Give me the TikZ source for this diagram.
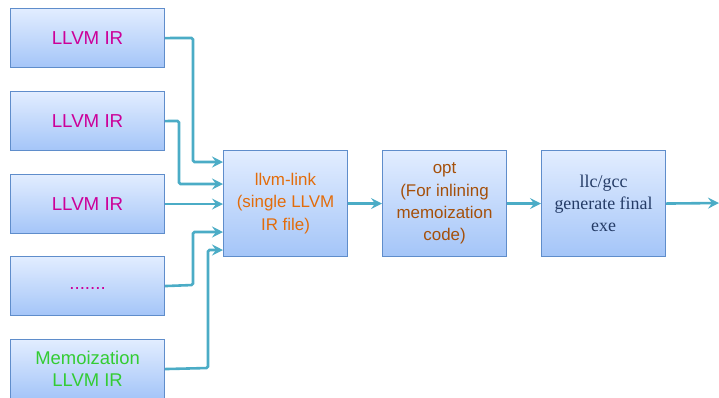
\documentclass[tikz,border=0pt]{standalone}
\usepackage{fontspec}
\setmainfont{Liberation Sans}
\newfontfamily\serifx{Liberation Serif}
\usetikzlibrary{arrows.meta,positioning}
\definecolor{boxtop}{HTML}{E2EDFF}
\definecolor{boxbot}{HTML}{A4C5F8}
\definecolor{boxline}{HTML}{5F8DCB}
\definecolor{conncol}{HTML}{4BACC6}
\definecolor{irpink}{HTML}{CC0099}
\definecolor{linkorange}{HTML}{E36C0A}
\definecolor{optbrown}{HTML}{A5500A}
\definecolor{llcblue}{HTML}{243B66}
\definecolor{memogreen}{HTML}{33CC33}
\tikzset{
  box/.style={draw=boxline, line width=1.1pt, top color=boxtop, bottom color=boxbot, shading angle=0,
    minimum width=154bp, minimum height=59bp, inner sep=0pt, align=center, anchor=north west,
    font=\fontsize{18.8}{21}\selectfont},
  bigbox/.style={box, minimum width=124bp, minimum height=106bp, font=\fontsize{17}{22.5}\selectfont},
  conn/.style={draw=conncol, line width=2.6pt, -{Stealth[length=11bp,width=11bp,inset=4bp]}, rounded corners=1.5bp},
}
\begin{document}
\begin{tikzpicture}[x=1bp,y=-1bp]
\useasboundingbox (0,0) rectangle (719,397);
\clip (0,0) rectangle (719,397);
\node[box, text=irpink] (ir1) at (10,8) {LLVM IR};
\node[box, text=irpink] (ir2) at (10,91) {LLVM IR};
\node[box, text=irpink] (ir3) at (10,174) {LLVM IR};
\node[box, text=irpink] (ir4) at (10,256) {\raisebox{-6bp}{.......}};
\node[box, text=memogreen, font=\fontsize{18.5}{22}\selectfont] (memo) at (10,339) {Memoization\\LLVM IR};
\node[bigbox, text=linkorange] (link) at (223,150) {llvm-link\\(single LLVM\\IR file)};
\node[bigbox, text=optbrown] (opt) at (382,150) {opt\\(For inlining\\memoization\\code)};
\node[bigbox, text=llcblue, font=\serifx\fontsize{18}{22}\selectfont] (llc) at (541,150) {llc/gcc\\generate final\\exe};
\coordinate (out) at (719,203);
\coordinate (j1) at (223,162);
\coordinate (j2) at (223,184);
\coordinate (j4) at (223,232);
\coordinate (j5) at (223,250);
\draw[conn] (ir1.east) -- (193,38) |- (j1);
\draw[conn] (ir2.east) -- (179,121) |- (j2);
\draw[conn] (ir3.east) -- (link.west |- ir3.east);
\draw[conn] (ir4.east) -- (193,285) |- (j4);
\draw[conn] (memo.east) -- (208,368) |- (j5);
\draw[conn] (link.east) -- (opt.west);
\draw[conn] (opt.east) -- (llc.west);
\draw[conn] (llc.east) -- (out);
\end{tikzpicture}
\end{document}
